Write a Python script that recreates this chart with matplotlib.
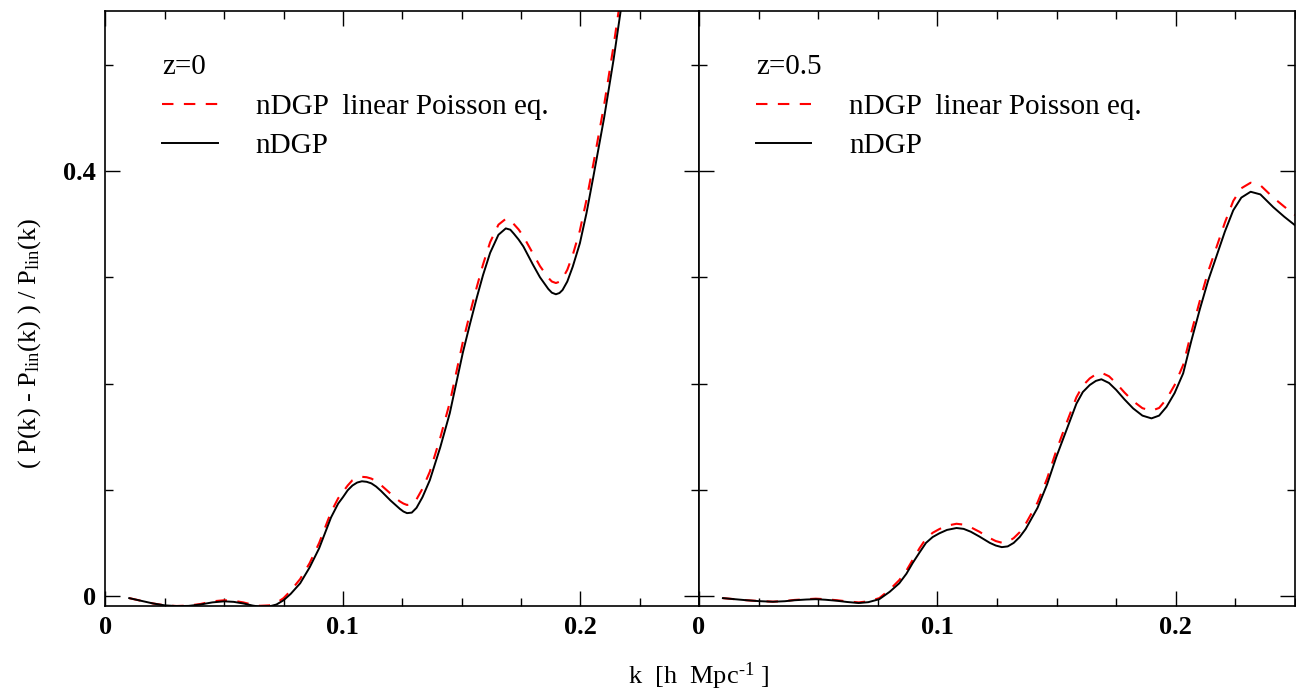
import matplotlib
matplotlib.use("Agg")
import matplotlib.pyplot as plt
from matplotlib.ticker import MultipleLocator, FixedLocator

plt.rcParams['font.family'] = ['Liberation Serif', 'DejaVu Serif']
plt.rcParams['mathtext.fontset'] = 'custom'
plt.rcParams['mathtext.rm'] = 'Liberation Serif'
plt.rcParams['mathtext.it'] = 'Liberation Serif:italic'

# z = 0
k0 = [0.010, 0.015, 0.020, 0.025, 0.030, 0.035, 0.040, 0.045, 0.050, 0.054,
      0.058, 0.062, 0.065, 0.069, 0.072, 0.075, 0.078, 0.082, 0.086, 0.090,
      0.095, 0.098, 0.100, 0.102, 0.104, 0.106, 0.108, 0.110, 0.112, 0.114,
      0.116, 0.118, 0.120, 0.122, 0.124, 0.1255, 0.127, 0.129, 0.131, 0.1335,
      0.1366, 0.141, 0.145, 0.1505, 0.1535, 0.1564, 0.159, 0.162, 0.1655, 0.1686,
      0.1705, 0.172, 0.174, 0.176, 0.178, 0.180, 0.183, 0.1865, 0.188, 0.1897,
      0.1912, 0.1925, 0.1945, 0.1968, 0.1998, 0.2026, 0.2055, 0.210, 0.214, 0.217,
      0.220]
ratio0_full = [-0.002, -0.0045, -0.007, -0.0088, -0.0095, -0.0093, -0.008, -0.006, -0.005, -0.0055,
               -0.007, -0.009, -0.010, -0.0098, -0.008, -0.004, 0.002, 0.012, 0.027, 0.045,
               0.074, 0.087, 0.093, 0.0995, 0.104, 0.1068, 0.108, 0.1075, 0.106, 0.103,
               0.099, 0.0945, 0.090, 0.086, 0.082, 0.0795, 0.078, 0.0785, 0.083, 0.093,
               0.109, 0.140, 0.172, 0.229, 0.256, 0.281, 0.302, 0.323, 0.340, 0.346,
               0.3448, 0.341, 0.3355, 0.329, 0.3205, 0.312, 0.300, 0.289, 0.2855, 0.284,
               0.2852, 0.288, 0.296, 0.310, 0.332, 0.3605, 0.395, 0.450, 0.505, 0.551,
               0.590]
ratio0_lin = [-0.002, -0.0045, -0.007, -0.0088, -0.0094, -0.0090, -0.0075, -0.005, -0.004, -0.0045,
              -0.006, -0.0082, -0.0092, -0.0088, -0.0065, -0.002, 0.005, 0.016, 0.031, 0.050,
              0.079, 0.092, 0.098, 0.104, 0.109, 0.1112, 0.1122, 0.1118, 0.1105, 0.108,
              0.1045, 0.1005, 0.0965, 0.0925, 0.089, 0.087, 0.0857, 0.0865, 0.091, 0.101,
              0.117, 0.149, 0.182, 0.239, 0.266, 0.291, 0.312, 0.333, 0.3495, 0.355,
              0.3538, 0.350, 0.345, 0.3385, 0.3305, 0.3225, 0.3105, 0.2995, 0.296, 0.2946,
              0.2958, 0.299, 0.307, 0.321, 0.344, 0.373, 0.407, 0.462, 0.518, 0.564,
              0.602]

# z = 0.5
k05 = [0.010, 0.015, 0.020, 0.025, 0.031, 0.036, 0.040, 0.045, 0.049, 0.053,
       0.058, 0.062, 0.067, 0.071, 0.0756, 0.080, 0.084, 0.087, 0.0896, 0.0925,
       0.0952, 0.098, 0.1008, 0.104, 0.108, 0.111, 0.114, 0.1176, 0.122, 0.1245,
       0.127, 0.1295, 0.132, 0.1345, 0.137, 0.142, 0.146, 0.1499, 0.1541, 0.1583,
       0.161, 0.1639, 0.1665, 0.1688, 0.172, 0.175, 0.1785, 0.1821, 0.186, 0.1898,
       0.193, 0.1961, 0.1995, 0.2031, 0.2065, 0.2101, 0.2136, 0.2171, 0.2206, 0.2241,
       0.2275, 0.2314, 0.2355, 0.2409, 0.2455, 0.250]
ratio05_full = [-0.002, -0.003, -0.004, -0.0048, -0.0054, -0.0049, -0.004, -0.0033, -0.003, -0.0035,
                -0.0045, -0.0056, -0.0066, -0.0058, -0.003, 0.004, 0.012, 0.021, 0.031, 0.041,
                0.050, 0.0555, 0.059, 0.0622, 0.064, 0.0632, 0.0605, 0.056, 0.050, 0.0475,
                0.046, 0.0467, 0.050, 0.0555, 0.063, 0.083, 0.105, 0.131, 0.156, 0.181,
                0.192, 0.1986, 0.2025, 0.204, 0.2005, 0.194, 0.185, 0.1766, 0.1698, 0.1672,
                0.1698, 0.178, 0.191, 0.2096, 0.240, 0.270, 0.297, 0.320, 0.343, 0.363,
                0.375, 0.3805, 0.378, 0.366, 0.357, 0.349]
ratio05_lin = [-0.002, -0.003, -0.004, -0.0047, -0.0053, -0.0047, -0.0037, -0.003, -0.0025, -0.003,
               -0.004, -0.005, -0.006, -0.005, -0.002, 0.006, 0.015, 0.024, 0.034, 0.045,
               0.054, 0.0595, 0.063, 0.0662, 0.068, 0.0672, 0.0647, 0.0605, 0.0545, 0.0517,
               0.0502, 0.051, 0.0545, 0.060, 0.0678, 0.088, 0.1105, 0.137, 0.1625, 0.187,
               0.198, 0.2048, 0.2087, 0.2102, 0.2068, 0.2003, 0.1915, 0.1834, 0.1768, 0.1744,
               0.177, 0.1853, 0.1985, 0.2175, 0.248, 0.278, 0.3055, 0.3285, 0.3515, 0.3718,
               0.3838, 0.389, 0.3866, 0.375, 0.3665, 0.3586]

panels = [("z=0", k0, ratio0_full, ratio0_lin),
          ("z=0.5", k05, ratio05_full, ratio05_lin)]

fig = plt.figure(figsize=(12.96, 6.94), dpi=100)
ax1 = fig.add_axes([0.0814, 0.1268, 0.4580, 0.8573])
ax2 = fig.add_axes([0.5394, 0.1268, 0.4598, 0.8573], sharey=ax1)

for ax, (title, k, full, lin) in zip([ax1, ax2], panels):
    ax.plot(k, lin, color='red', lw=1.5, dashes=[5.5, 5], label='nDGP  linear Poisson eq.')
    ax.plot(k, full, color='black', lw=1.4, label='nDGP')
    ax.set_xlim(0, 0.25)
    ax.set_ylim(-0.0094, 0.5506)
    ax.xaxis.set_major_locator(FixedLocator([0, 0.1, 0.2]))
    ax.xaxis.set_minor_locator(MultipleLocator(0.025))
    ax.yaxis.set_major_locator(FixedLocator([0, 0.4]))
    ax.yaxis.set_minor_locator(MultipleLocator(0.1))
    ax.set_xticklabels(['0', '0.1', '0.2'])
    ax.tick_params(which='both', direction='in', top=True, right=True, width=1.0)
    ax.tick_params(which='major', length=11, pad=7, labelsize=19)
    ax.tick_params(which='minor', length=5.8)
    for lab in ax.get_xticklabels() + ax.get_yticklabels():
        lab.set_fontweight('bold')
    for sp in ax.spines.values():
        sp.set_linewidth(1.2)
    ax.legend(title=title, loc='upper left', bbox_to_anchor=(0.076, 0.947),
              frameon=False, fontsize=21, title_fontsize=21, handlelength=1.9,
              handletextpad=1.3, labelspacing=0.45, alignment='left',
              borderaxespad=0)

ax1.set_yticklabels(['0', '0.4'])
ax2.tick_params(labelleft=False)

fig.text(0.023, 0.505, '( P(k) - P$_{\\rm lin}$(k) ) / P$_{\\rm lin}$(k)', rotation=90,
         ha='center', va='center', fontsize=19)
fig.text(0.539, 0.025, 'k  [h  Mpc$^{\\text{-1}}$ ]', ha='center', va='center', fontsize=19)

plt.savefig('out.png', dpi=100)
